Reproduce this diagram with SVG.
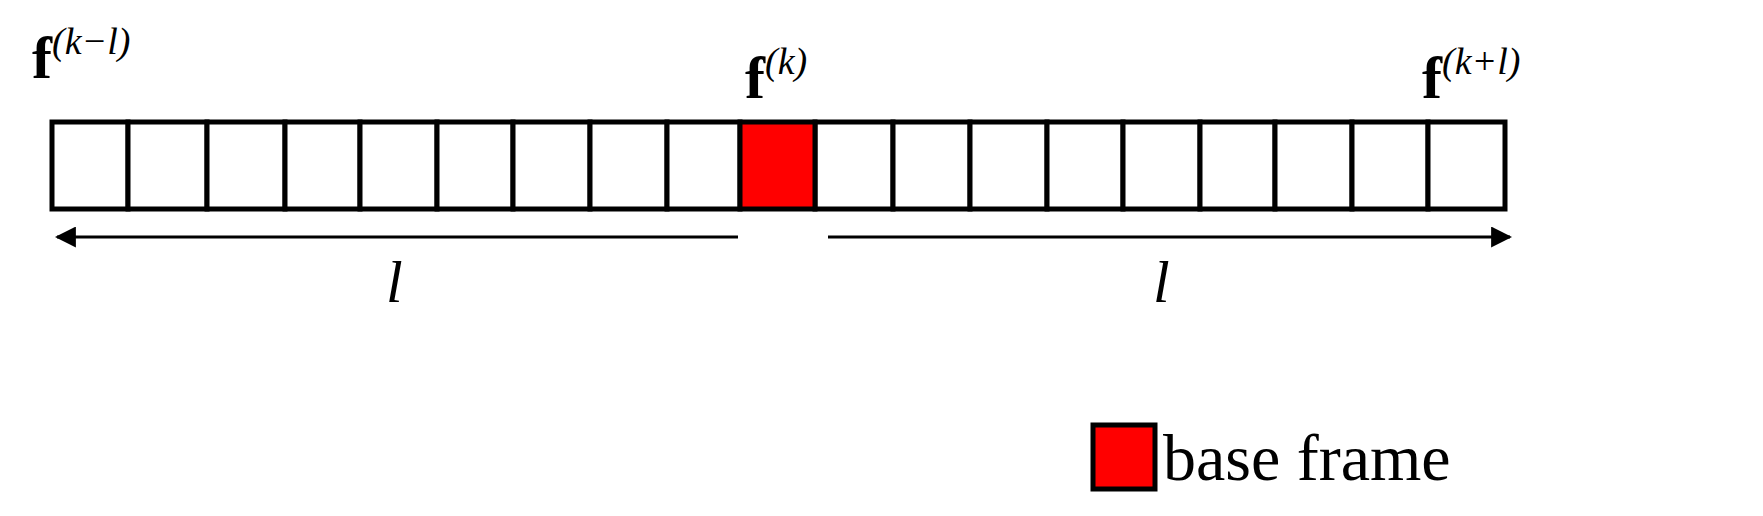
<svg xmlns="http://www.w3.org/2000/svg" width="1763" height="516" viewBox="0 0 1763 516">
<style>
.c{fill:#fff;stroke:#000;stroke-width:5}
.r{fill:#f00;stroke:#000;stroke-width:5}
.t{font-family:"Liberation Serif",serif;fill:#000}
.f{font-weight:bold;font-size:60px}
.s{font-style:italic;font-size:38px}
.a{stroke:#000;stroke-width:3;fill:none}
</style>
<defs><marker id="ah" viewBox="0 0 10 10" refX="9" refY="5" markerWidth="7" markerHeight="7" orient="auto-start-reverse"><path d="M0,0L10,5L0,10z" fill="#000"/></marker></defs>
<g id="frames">
<rect class="c" x="52" y="122" width="76" height="87"/><rect class="c" x="128" y="122" width="79" height="87"/><rect class="c" x="207" y="122" width="78" height="87"/><rect class="c" x="285" y="122" width="75" height="87"/><rect class="c" x="360" y="122" width="77" height="87"/><rect class="c" x="437" y="122" width="76" height="87"/><rect class="c" x="513" y="122" width="77" height="87"/><rect class="c" x="590" y="122" width="77" height="87"/><rect class="c" x="667" y="122" width="73" height="87"/>
<rect class="c" x="815" y="122" width="78" height="87"/><rect class="c" x="893" y="122" width="77" height="87"/><rect class="c" x="970" y="122" width="77" height="87"/><rect class="c" x="1047" y="122" width="76" height="87"/><rect class="c" x="1123" y="122" width="77" height="87"/><rect class="c" x="1200" y="122" width="75" height="87"/><rect class="c" x="1275" y="122" width="77" height="87"/><rect class="c" x="1352" y="122" width="76" height="87"/><rect class="c" x="1428" y="122" width="77" height="87"/>
<rect class="r" x="740" y="122" width="75" height="87"/>
</g>
<g id="connectors">
<line class="a" x1="738" y1="237" x2="57" y2="237" marker-end="url(#ah)"/>
<line class="a" x1="828" y1="237" x2="1510" y2="237" marker-end="url(#ah)"/>
</g>
<g id="labels">
<text class="t" x="32" y="78"><tspan class="f">f</tspan><tspan class="s" dy="-24">(k−l)</tspan></text>
<text class="t" x="745" y="98"><tspan class="f">f</tspan><tspan class="s" dy="-24">(k)</tspan></text>
<text class="t" x="1422" y="98"><tspan class="f">f</tspan><tspan class="s" dy="-24">(k+l)</tspan></text>
<text class="t" x="386" y="302" font-size="60" font-style="italic">l</text>
<text class="t" x="1153" y="302" font-size="60" font-style="italic">l</text>
</g>
<g id="legend">
<rect class="r" x="1093" y="425" width="62" height="64"/>
<text class="t" x="1163" y="480" font-size="66">base frame</text>
</g>
</svg>
